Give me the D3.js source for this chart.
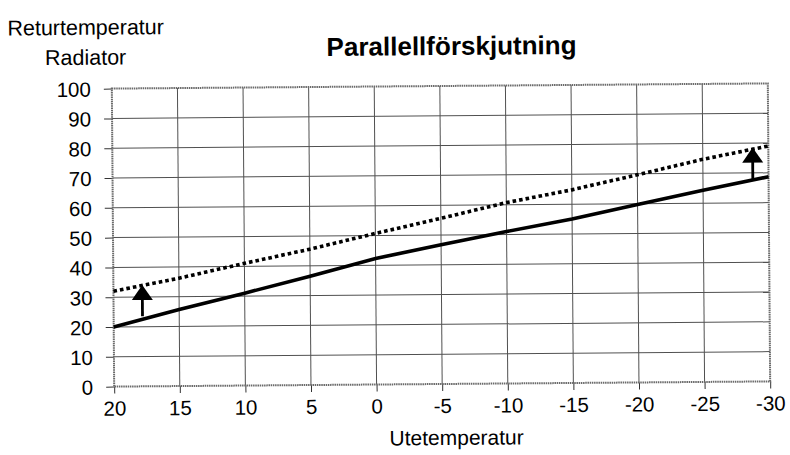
<!DOCTYPE html>
<html>
<head>
<meta charset="utf-8">
<script src="https://cdn.jsdelivr.net/npm/d3@7"></script>
<style>
  body { margin: 0; background: #fff; }
  svg { display: block; font-family: "Liberation Sans", Arial, sans-serif; }
  .axis path { display: none; }
  .axis line { stroke: #333; }
  .axis text { fill: #000; font-size: 20.5px; }
</style>
</head>
<body>
<svg id="chart" width="790" height="455"></svg>
<script>
'use strict';

// chart data
var outdoorTemps = [20, 15, 10, 5, 0, -5, -10, -15, -20, -25, -30],
    returnTemps = [20, 25.7, 31, 36.5, 42.3, 46.7, 51, 55, 59.7, 64.3, 68.7],
    shiftedTemps = [32, 36.2, 41, 45.6, 50.7, 55.6, 60.7, 64.8, 69.7, 74.7, 79];

var xTicks = [20, 15, 10, 5, 0, -5, -10, -15, -20, -25, -30],
    yTicks = [0, 10, 20, 30, 40, 50, 60, 70, 80, 90, 100];

// arrows showing the parallel shift
var arrowX = [17.8, -28.8],
    arrowFrom = [23.5, 68],
    arrowTo = [34, 78.5];

var titleText = 'Parallellförskjutning',
    yTitle = ['Returtemperatur', 'Radiator'],
    xTitle = 'Utetemperatur';

var margin = {left: 113, right: 21, top: 86, bottom: 71},
    W = 790, H = 455,
    plotW = W - margin.left - margin.right,
    plotH = H - margin.top - margin.bottom;

var svg = d3.select('#chart');

// the scanned original is slightly tilted
var root = svg.append('g')
    .attr('transform', 'rotate(-0.45,441,235)');

var x = d3.scaleLinear().domain([20, -30]).range([0, plotW]),
    y = d3.scaleLinear().domain([0, 100]).range([plotH, 0]);

var g = root.append('g')
    .attr('transform', 'translate(' + margin.left + ',' + margin.top + ')');

// grid
g.append('g').attr('class', 'grid')
    .selectAll('line.h')
    .data(yTicks.slice(1, -1))
    .enter().append('line')
        .attr('x1', 0).attr('x2', plotW)
        .attr('y1', function(d) { return y(d); })
        .attr('y2', function(d) { return y(d); })
        .attr('stroke', '#505050')
        .attr('stroke-width', 1);

g.append('g').attr('class', 'grid')
    .selectAll('line.v')
    .data(xTicks.slice(1, -1))
    .enter().append('line')
        .attr('y1', 0).attr('y2', plotH)
        .attr('x1', function(d) { return x(d); })
        .attr('x2', function(d) { return x(d); })
        .attr('stroke', '#505050')
        .attr('stroke-width', 1);

// axes, plain hyphen for negatives as in the original
g.append('g')
    .attr('class', 'axis')
    .call(d3.axisLeft(y).tickValues(yTicks).tickSize(8).tickPadding(13))
    .selectAll('text')
        .attr('dy', '0.36em');

g.append('g')
    .attr('class', 'axis')
    .attr('transform', 'translate(0,' + plotH + ')')
    .call(d3.axisBottom(x).tickValues(xTicks).tickSize(7).tickPadding(0)
        .tickFormat(function(d) { return String(d); }))
    .selectAll('text')
        .attr('y', 29)
        .attr('dy', 0);

// frame
g.append('rect')
    .attr('width', plotW)
    .attr('height', plotH)
    .attr('fill', 'none')
    .attr('stroke', '#6a6a6a')
    .attr('stroke-width', 2)
    .attr('stroke-dasharray', '1.5,0.7');

// series
var line = d3.line()
    .x(function(d) { return x(d[0]); })
    .y(function(d) { return y(d[1]); });

g.append('path')
    .datum(d3.zip(outdoorTemps, returnTemps))
    .attr('d', line)
    .attr('fill', 'none')
    .attr('stroke', '#000')
    .attr('stroke-width', 3.6);

g.append('path')
    .datum(d3.zip(outdoorTemps, shiftedTemps))
    .attr('d', line)
    .attr('fill', 'none')
    .attr('stroke', '#000')
    .attr('stroke-width', 3.6)
    .attr('stroke-dasharray', '3.6,3');

// arrows
var arrows = g.append('g').selectAll('g.arrow')
    .data(d3.range(arrowX.length))
    .enter().append('g')
        .attr('class', 'arrow');

arrows.append('line')
    .attr('x1', function(i) { return x(arrowX[i]); })
    .attr('x2', function(i) { return x(arrowX[i]); })
    .attr('y1', function(i) { return y(arrowFrom[i]); })
    .attr('y2', function(i) { return y(arrowTo[i]) + 12; })
    .attr('stroke', '#000')
    .attr('stroke-width', 2.8);

arrows.append('path')
    .attr('d', function(i) {
        var cx = x(arrowX[i]), ty = y(arrowTo[i]);
        return 'M' + cx + ',' + ty + 'L' + (cx + 10.5) + ',' + (ty + 15) +
            'L' + (cx - 10.5) + ',' + (ty + 15) + 'Z';
    })
    .attr('fill', '#000');

// titles
root.append('text')
    .attr('x', 453)
    .attr('y', 55)
    .attr('text-anchor', 'middle')
    .attr('font-size', 26)
    .attr('font-weight', 'bold')
    .text(titleText);

root.append('text')
    .attr('x', 9)
    .attr('y', 32)
    .attr('font-size', 21.5)
    .text(yTitle[0]);

root.append('text')
    .attr('x', 87)
    .attr('y', 62)
    .attr('text-anchor', 'middle')
    .attr('font-size', 21.5)
    .text(yTitle[1]);

root.append('text')
    .attr('x', 455)
    .attr('y', 445)
    .attr('text-anchor', 'middle')
    .attr('font-size', 21)
    .text(xTitle);
</script>
</body>
</html>
